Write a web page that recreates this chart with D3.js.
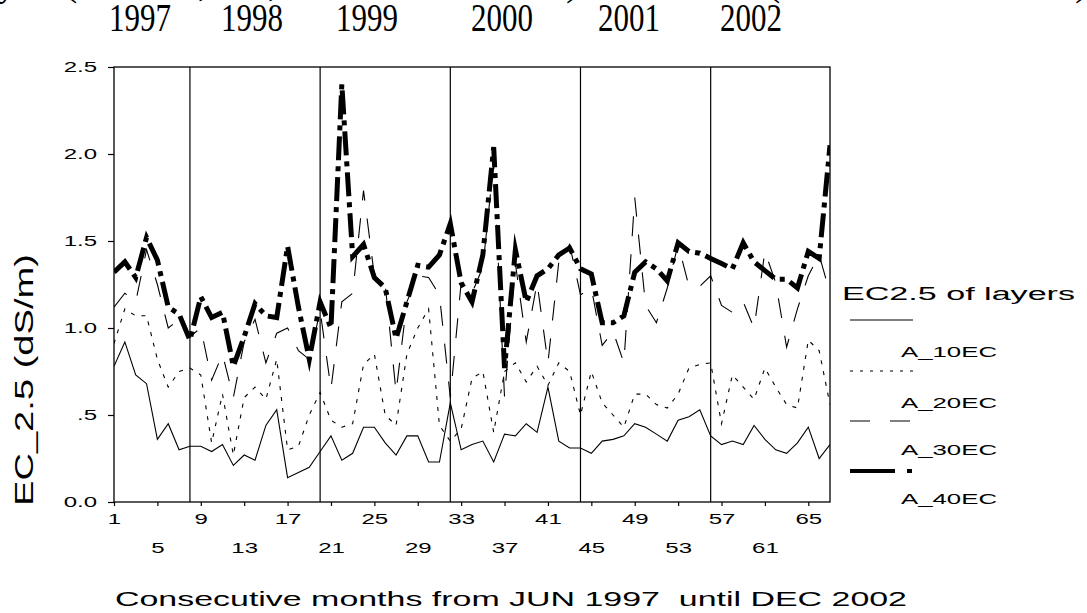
<!DOCTYPE html>
<meta charset="utf-8">

<!-- Load d3.js -->
<script src="https://d3js.org/d3.v7.min.js"></script>
<style>
  body { margin: 0; background: #fff; }
  text { font-family: "Liberation Sans", Arial, sans-serif; fill: #000; }
</style>
<!-- Create a div where the graph will take place -->
<div id="my_dataviz"></div>

<script>

// consecutive months, 1 = JUN 1997 ... 67 = DEC 2002
var months = d3.range(1, 68);

// EC2.5 (dS/m) of each layer, read month by month
var a10 = [0.78,0.92,0.73,0.68,0.36,0.45,0.30,0.32,0.32,0.29,
           0.33,0.21,0.27,0.24,0.44,0.53,0.14,0.17,0.20,0.29,
           0.38,0.24,0.28,0.43,0.43,0.34,0.27,0.38,0.38,0.23,
           0.23,0.57,0.30,0.33,0.35,0.23,0.39,0.38,0.45,0.40,
           0.66,0.35,0.31,0.31,0.28,0.35,0.36,0.38,0.45,0.43,
           0.39,0.35,0.47,0.49,0.53,0.38,0.33,0.35,0.33,0.44,
           0.36,0.30,0.28,0.34,0.43,0.25,0.33];
var a20 = [0.91,1.11,1.07,1.07,0.82,0.66,0.75,0.77,0.73,0.34,
           0.62,0.27,0.60,0.66,0.59,0.82,0.30,0.32,0.50,0.63,
           0.47,0.43,0.45,0.79,0.85,0.50,0.44,0.85,1.00,1.11,
           0.44,0.35,0.42,0.71,0.75,0.40,0.75,0.80,0.69,0.78,
           0.67,0.80,0.75,0.50,0.75,0.57,0.50,0.43,0.62,0.62,
           0.56,0.54,0.62,0.77,0.79,0.80,0.45,0.73,0.66,0.59,
           0.77,0.66,0.56,0.54,0.93,0.87,0.56];
var a30 = [1.12,1.20,1.15,1.45,1.25,1.00,1.05,0.95,1.00,0.70,
           0.85,0.60,0.92,1.05,0.80,0.97,1.00,0.87,0.82,1.10,
           0.65,1.15,1.20,1.79,1.30,1.25,0.63,1.15,1.30,1.29,
           1.19,0.60,1.26,1.20,1.35,1.95,0.60,1.37,0.92,1.26,
           0.80,1.38,1.48,1.19,1.23,0.90,0.98,0.80,1.75,1.13,
           1.03,1.23,1.48,1.24,1.24,1.30,1.13,1.09,1.15,1.00,
           1.44,1.26,0.89,1.11,1.30,1.42,1.20];
var a40 = [1.32,1.38,1.29,1.52,1.39,1.12,1.08,0.93,1.18,1.06,
           1.09,0.78,0.95,1.14,1.07,1.06,1.47,1.12,0.82,1.15,
           1.00,2.40,1.41,1.48,1.29,1.23,0.94,1.15,1.36,1.35,
           1.42,1.60,1.26,1.15,1.42,2.04,0.77,1.45,1.15,1.30,
           1.34,1.42,1.46,1.34,1.31,1.03,1.03,1.07,1.32,1.38,
           1.34,1.27,1.49,1.44,1.43,1.40,1.37,1.34,1.49,1.38,
           1.33,1.28,1.28,1.23,1.44,1.40,2.05];

var seriesNames = ["A_10EC", "A_20EC", "A_30EC", "A_40EC"];
var yearBreaks = [8, 20, 32, 44, 56];           // first month of 1998..2002
var yearLabels = ["1997", "1998", "1999", "2000", "2001", "2002"];
var yTicks = [0, 0.5, 1, 1.5, 2, 2.5];
var yTickLabels = ["0.0", ".5", "1.0", "1.5", "2.0", "2.5"];
var xTicks = months.filter(function(m) { return (m - 1) % 4 == 0; });

// layout
var W = 1087, H = 613;
var plot = {left: 114, right: 830, top: 67, bottom: 502};
var yearX = [140, 252, 367, 502, 629, 751];

var svg = d3.select("#my_dataviz")
  .append("svg")
    .attr("width", W)
    .attr("height", H);

// stretch text horizontally, the original export is wide
function stretch(sel, k) {
  sel.each(function() {
    var w = this.getComputedTextLength();
    d3.select(this).attr("textLength", w * k).attr("lengthAdjust", "spacingAndGlyphs");
  });
}
function fitTo(sel, w) {
  sel.attr("textLength", w).attr("lengthAdjust", "spacingAndGlyphs");
}

var x = d3.scaleLinear().domain([1, 67]).range([plot.left, plot.right]);
var y = d3.scaleLinear().domain([0, 2.5]).range([plot.bottom, plot.top]);

// cut-off text line above the years
var topFrag = [["y", -3], ["(", 64], [",", 198], [",", 268], [")", 566], ["(", 767], [")", 1075]];
svg.selectAll(".frag")
  .data(topFrag)
  .enter().append("text")
    .attr("x", function(d) { return d[1]; })
    .attr("y", -5)
    .style("font-family", "'Liberation Serif', serif")
    .style("font-size", "40px")
    .text(function(d) { return d[0]; });

// year headings
svg.selectAll(".year")
  .data(yearLabels)
  .enter().append("text")
    .attr("x", function(d, i) { return yearX[i]; })
    .attr("y", 31)
    .attr("text-anchor", "middle")
    .style("font-family", "'Liberation Serif', serif")
    .style("font-size", "39px")
    .text(function(d) { return d; })
    .call(fitTo, 62);

// clip for the lines
svg.append("clipPath").attr("id", "clip")
  .append("rect")
    .attr("x", plot.left).attr("y", plot.top)
    .attr("width", plot.right - plot.left)
    .attr("height", plot.bottom - plot.top);

// year separators
svg.selectAll(".brk")
  .data(yearBreaks)
  .enter().append("line")
    .attr("x1", function(d) { return x(d); })
    .attr("x2", function(d) { return x(d); })
    .attr("y1", plot.top)
    .attr("y2", plot.bottom)
    .attr("stroke", "#000")
    .attr("stroke-width", 1.2);

// line styles per layer
var styles = [
  {width: 1.1, dash: null},
  {width: 1.1, dash: "4,7"},
  {width: 1.1, dash: "20,18"},
  {width: 5,   dash: "24,6,5,6"}
];
var allSeries = [a10, a20, a30, a40];

var line = d3.line()
  .x(function(d, i) { return x(months[i]); })
  .y(function(d) { return y(d); });

svg.append("g")
    .attr("clip-path", "url(#clip)")
  .selectAll("path")
  .data(allSeries)
  .enter().append("path")
    .attr("d", line)
    .attr("fill", "none")
    .attr("stroke", "#000")
    .attr("stroke-width", function(d, i) { return styles[i].width; })
    .attr("stroke-dasharray", function(d, i) { return styles[i].dash; })
    .attr("stroke-linejoin", "miter")
    .attr("stroke-miterlimit", 8);

// frame
svg.append("rect")
    .attr("x", plot.left).attr("y", plot.top)
    .attr("width", plot.right - plot.left)
    .attr("height", plot.bottom - plot.top)
    .attr("fill", "none")
    .attr("stroke", "#000")
    .attr("stroke-width", 1.3);

// Y axis
var yAxis = svg.append("g")
    .attr("transform", "translate(" + plot.left + ",0)")
    .call(d3.axisLeft(y)
      .tickValues(yTicks)
      .tickSize(6)
      .tickPadding(11)
      .tickFormat(function(d, i) { return yTickLabels[i]; }));
yAxis.select(".domain").remove();
yAxis.selectAll("line").attr("stroke", "#000").attr("stroke-width", 1.2);
yAxis.selectAll("text")
    .attr("font-family", null).attr("font-size", null)
    .style("font-size", "15px")
    .call(stretch, 1.6);

// X axis, labels on two rows
var xAxis = svg.append("g")
    .attr("transform", "translate(0," + plot.bottom + ")")
    .call(d3.axisBottom(x)
      .tickValues(xTicks)
      .tickSize(4)
      .tickFormat(d3.format("d")));
xAxis.select(".domain").remove();
xAxis.selectAll("line").attr("stroke", "#000").attr("stroke-width", 1.2);
xAxis.selectAll("text")
    .attr("font-family", null).attr("font-size", null)
    .style("font-size", "15px")
    .attr("dy", null)
    .attr("y", function(d, i) { return i % 2 == 0 ? 21.5 : 50.5; })
    .call(stretch, 1.6);

// axis titles
svg.append("text")
    .attr("x", 115)
    .attr("y", 606)
    .style("font-size", "21px")
    .style("white-space", "pre")
    .text("Consecutive months from JUN 1997  until DEC 2002")
    .call(fitTo, 792);

svg.append("text")
    .attr("transform", "translate(33,380) rotate(-90)")
    .attr("text-anchor", "middle")
    .style("font-size", "26px")
    .text("EC_2.5 (dS/m)")
    .call(fitTo, 252);

// legend
var lg = svg.append("g");
lg.append("text")
    .attr("x", 842).attr("y", 300)
    .style("font-size", "18px")
    .text("EC2.5 of layers")
    .call(fitTo, 233);

var legendDash = [null, "3,7", "20,20", "45,12,5,40"];
var legendLineY = [320, 371, 421, 471];
var legendTextY = [357, 408, 455, 504];

lg.selectAll(".lgline")
  .data(seriesNames)
  .enter().append("line")
    .attr("x1", 850).attr("x2", 913)
    .attr("y1", function(d, i) { return legendLineY[i]; })
    .attr("y2", function(d, i) { return legendLineY[i]; })
    .attr("stroke", "#000")
    .attr("stroke-width", function(d, i) { return i == 3 ? 4 : 1.2; })
    .attr("stroke-dasharray", function(d, i) { return legendDash[i]; });

lg.selectAll(".lgtext")
  .data(seriesNames)
  .enter().append("text")
    .attr("x", 901)
    .attr("y", function(d, i) { return legendTextY[i]; })
    .style("font-size", "15px")
    .text(function(d) { return d; })
    .call(fitTo, 96);

</script>
